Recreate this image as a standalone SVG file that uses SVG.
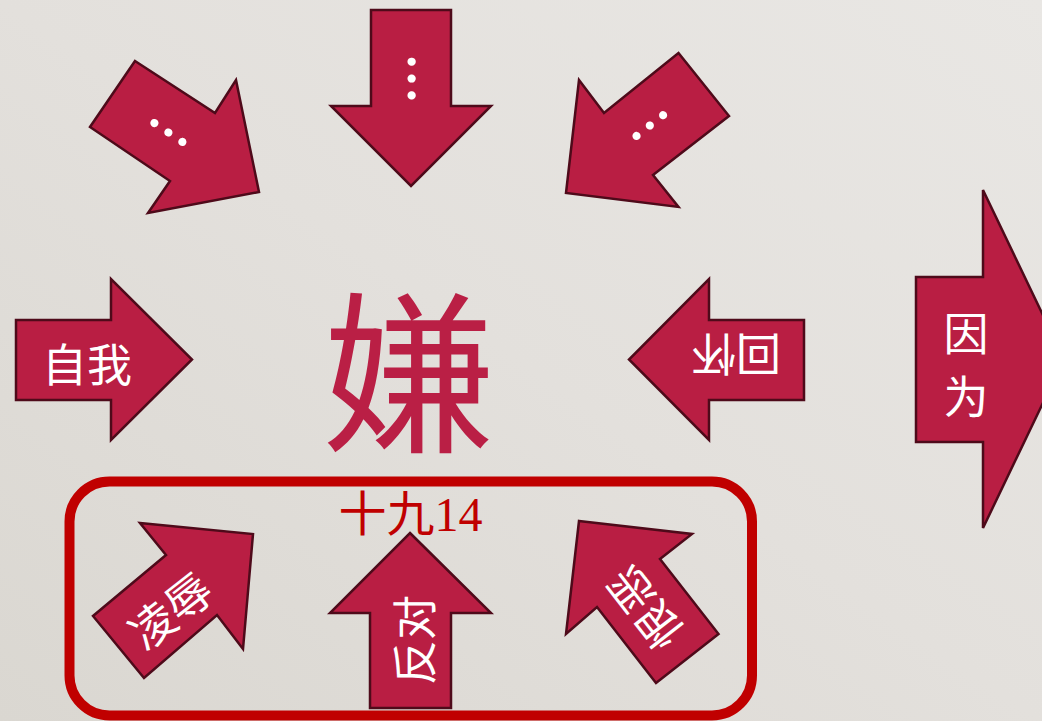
<svg xmlns="http://www.w3.org/2000/svg" width="1042" height="721" viewBox="0 0 1042 721">
<defs>
<linearGradient id="bg" x1="1" y1="0" x2="0" y2="1">
<stop offset="0" stop-color="#E9E7E4"/>
<stop offset="0.5" stop-color="#E3E0DC"/>
<stop offset="1" stop-color="#DAD7D1"/>
</linearGradient>
<style>
.arrow{fill:#B91E43;stroke:#4E0A1A;stroke-width:2.5;stroke-linejoin:miter}
.lbl{fill:#FFFFFF;font-family:"Noto Sans CJK SC","Noto Sans CJK TC",sans-serif;font-size:45px;text-anchor:middle;dominant-baseline:central}
.dots{fill:#FFFFFF;font-family:"Liberation Serif",serif;font-weight:bold;font-size:50px;text-anchor:middle}
</style>
</defs>
<rect width="1042" height="721" fill="url(#bg)"/>

<g id="arrow-top-left">
<polygon class="arrow" points="135,61 215,113 236,80 259,192 148,213 170,181 90,127"/>
<text class="dots" transform="translate(168,133) rotate(34)" x="0" y="2.6">…</text>
</g>

<g id="arrow-top">
<polygon class="arrow" points="371,10 451,10 451,106 491,106 411,186 331,106 371,106"/>
<text class="dots" transform="translate(411,78.5) rotate(90)" x="0" y="2.6">…</text>
</g>

<g id="arrow-top-right">
<polygon class="arrow" points="678.5,53 729,116 653,175 678.5,207 566,193 579,80 604,113"/>
<text class="dots" transform="translate(649.5,125) rotate(142)" x="0" y="2.6">…</text>
</g>

<g id="arrow-self">
<polygon class="arrow" points="16,320 111,320 111,279 192,359.5 111,440 111,400 16,400"/>
<text class="lbl" x="87" y="362">自我</text>
</g>

<g id="center-char">
<text x="409" y="363" fill="#BA1F45" font-family="Noto Sans CJK SC, sans-serif" font-size="174" text-anchor="middle" dominant-baseline="central">嫌</text>
</g>

<g id="arrow-back">
<polygon class="arrow" points="804,320 709,320 709,279 629,359.5 709,440 709,400 804,400"/>
<text class="lbl" transform="translate(736,356) rotate(180)" x="0" y="0">回怀</text>
</g>

<g id="arrow-because">
<polygon class="arrow" points="916,277 983,277 983,190 1064,359 983,528 983,442 916,442"/>
<text class="lbl" x="966" y="331">因</text>
<text class="lbl" x="966" y="394">为</text>
</g>

<g id="group-box">
<rect x="69.5" y="481.5" width="682.5" height="234" rx="40" ry="40" fill="none" stroke="#C00000" stroke-width="10"/>
<text x="410.5" y="531" fill="#C00000" font-family="Liberation Serif, Noto Sans CJK SC, serif" font-size="48" text-anchor="middle">十九14</text>
</g>

<g id="arrow-insult">
<polygon class="arrow" points="140,523 253,534 243,649 217,615 144,678 93,616 166,555"/>
<text class="lbl" transform="translate(169,609) rotate(-38)" x="0" y="0">凌辱</text>
</g>

<g id="arrow-oppose">
<polygon class="arrow" points="410,533 491,613 451,613 451,708 370,708 370,613 330,613"/>
<text class="lbl" transform="translate(412,640) rotate(-90)" x="0" y="0">反对</text>
</g>

<g id="arrow-hate">
<polygon class="arrow" points="579,521 692,534 660,559 718.5,634 656,683 597,607 566,634"/>
<text class="lbl" transform="translate(643,609) rotate(-128)" x="0" y="0">恨恶</text>
</g>
</svg>
